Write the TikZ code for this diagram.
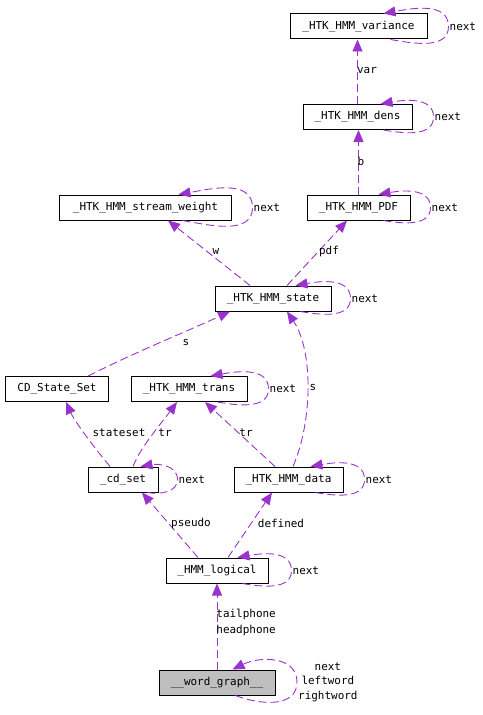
\documentclass[tikz,border=0pt]{standalone}
\usepackage{fontspec}
\setmainfont{DejaVu Sans Mono}
\usetikzlibrary{arrows.meta}
\definecolor{edgecol}{HTML}{9A32CD}
\definecolor{nodegray}{HTML}{BFBFBF}
\tikzset{
  cls/.style={draw=black, line width=1bp, fill=white, inner sep=0pt, minimum height=25bp},
  edge/.style={draw=edgecol, line width=0.9bp, dash pattern=on 8bp off 4bp,
    -{Triangle[length=12bp,width=10bp]}},
  lbl/.style={inner sep=0pt, text=black},
}
\newcommand\selfloop[5]{%
  \draw[edge] ([xshift=-#2bp]#1.south east) to[out=-10,in=-90]
    ([xshift=#4bp]#1.east) coordinate (#1-lp) to[out=90,in=10] ([xshift=-#3bp]#1.north east);
  \node[lbl,anchor=west] (#1-next) at ([xshift=1bp]#1-lp) {#5};
}
\begin{document}
\begin{tikzpicture}[x=1bp,y=1bp,font=\fontsize{11}{13}\selectfont]
\useasboundingbox (0,0) rectangle (483,-715);

\node[cls, minimum width=137bp] (variance) at (358.5,-26.5) {\_HTK\_HMM\_variance};
\node[cls, minimum width=109bp] (dens) at (357.5,-117) {\_HTK\_HMM\_dens};
\node[cls, minimum width=171bp] (sw) at (145.5,-207.5) {\_HTK\_HMM\_stream\_weight};
\node[cls, minimum width=103bp] (pdf) at (358.5,-207.5) {\_HTK\_HMM\_PDF};
\node[cls, minimum width=116bp] (state) at (273,-298.5) {\_HTK\_HMM\_state};
\node[cls, minimum width=102bp] (cdss) at (57,-389) {CD\_State\_Set};
\node[cls, minimum width=116bp] (trans) at (189,-389) {\_HTK\_HMM\_trans};
\node[cls, minimum width=70bp] (cdset) at (123,-479.5) {\_cd\_set};
\node[cls, minimum width=109bp] (data) at (288.5,-479.5) {\_HTK\_HMM\_data};
\node[cls, minimum width=102bp] (logical) at (217,-570.5) {\_HMM\_logical};
\node[cls, minimum width=116bp, fill=nodegray] (wg) at (217,-682.5) {\_\_word\_graph\_\_};

% edges
\draw[edge] (dens.north) -- (dens.north |- variance.south)
  node[lbl] (l-var) at (367,-71) {var};
\draw[edge] (pdf.north) -- (pdf.north |- dens.south)
  node[lbl] (l-b) at (361,-161) {b};
\draw[edge] ([xshift=-23bp]state.north) -- ([xshift=22.5bp]sw.south)
  node[lbl] (l-w) at (216,-252) {w};
\draw[edge] ([xshift=14bp]state.north) -- ([xshift=-11.5bp]pdf.south)
  node[lbl] (l-pdf) at (329,-251) {pdf};
\draw[edge] ([xshift=31bp]cdss.north) .. controls (140,-350) and (190,-330) .. ([xshift=-43bp]state.south)
  node[lbl] (l-s1) at (186,-343) {s};
\draw[edge] ([xshift=4.5bp]data.north) .. controls (313,-420) and (313,-350) .. ([xshift=14bp]state.south)
  node[lbl] (l-s2) at (313,-388) {s};
\draw[edge] ([xshift=-13bp]cdset.north) .. controls (92,-445) and (74,-420) .. ([xshift=9bp]cdss.south)
  node[lbl] (l-ss) at (119,-433) {stateset};
\draw[edge] ([xshift=10bp]cdset.north) .. controls (140,-448) and (160,-425) .. ([xshift=-12bp]trans.south)
  node[lbl] (l-tr1) at (165,-433) {tr};
\draw[edge] ([xshift=-13.5bp]data.north) -- ([xshift=16bp]trans.south)
  node[lbl] (l-tr2) at (246,-433) {tr};
\draw[edge] ([xshift=-19bp]logical.north) -- ([xshift=19bp]cdset.south)
  node[lbl] (l-ps) at (191,-523) {pseudo};
\draw[edge] ([xshift=11bp]logical.north) -- ([xshift=-16.5bp]data.south)
  node[lbl] (l-def) at (281,-523) {defined};
\draw[edge] (wg.north) -- (logical.south)
  node[lbl, anchor=west, align=left, font=\fontsize{11}{16}\selectfont] (l-th) at (216,-622) {tailphone\\headphone};

% self loops
\selfloop{variance}{37}{44}{21}{next}
\selfloop{dens}{29}{32}{21}{next}
\selfloop{sw}{49}{53}{21}{next}
\selfloop{pdf}{27}{32}{20}{next}
\selfloop{state}{31}{36}{19}{next}
\selfloop{trans}{30}{37}{21}{next}
\selfloop{cdset}{11}{18}{19}{next}
\selfloop{data}{28}{33}{21}{next}
\selfloop{logical}{26}{31}{23}{next}
\draw[edge] ([xshift=-40bp]wg.south east) .. controls (260,-705) and (297,-708) .. (297,-682)
  coordinate (wg-lp) .. controls (297,-656) and (260,-656) .. ([xshift=-43bp]wg.north east);
\node[lbl, anchor=west, align=center, font=\fontsize{11}{14.5}\selectfont] (wg-next) at ([xshift=1bp]wg-lp) {next\\leftword\\rightword};
\end{tikzpicture}
\end{document}
